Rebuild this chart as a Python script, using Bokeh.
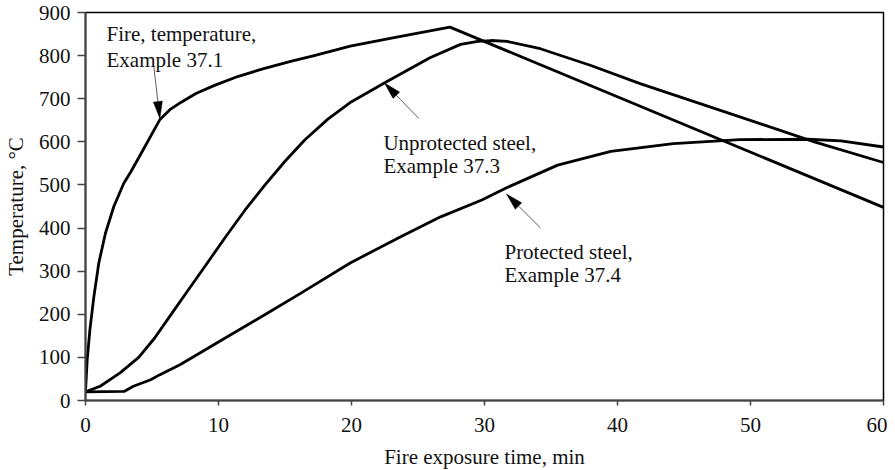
import numpy as np
from bokeh.plotting import figure
from bokeh.models import Range1d, FixedTicker, Label
from bokeh.embed import file_html
from bokeh.resources import INLINE

# ---- data ----
fire_t = [0, 0.13, 0.33, 0.63, 1.0, 1.5, 2.13, 2.88, 3.4, 4.4, 5.6, 6.4, 7.2, 8.3, 9.7, 11.5, 13.4, 15.5, 17.2, 19.9, 23.4, 27.4, 60]
fire_T = [20, 95, 164, 241, 319, 388, 450, 504, 530, 585, 652, 676, 692, 712, 731, 752, 770, 787, 800, 822, 843, 866, 448]

unprot_t = [0, 1.1, 2.6, 4.0, 5.2, 6.4, 7.7, 9.0, 10.5, 12.0, 13.5, 15.0, 16.5, 18.2, 20.0, 22.5, 25.9, 28.2, 29.5, 30.5, 31.7, 34.2, 38.0, 41.7, 49.2, 54.8, 60]
unprot_T = [20, 33, 64, 100, 145, 198, 255, 312, 378, 442, 500, 555, 605, 652, 693, 737, 795, 826, 833, 835, 833, 816, 777, 735, 658, 600, 552]

prot_t = [0, 2.9, 3.6, 4.9, 5.6, 7.1, 8.6, 9.9, 13.7, 16.2, 19.9, 23.7, 26.7, 29.8, 31.7, 35.5, 39.5, 44.2, 49.2, 54.3, 56.8, 60]
prot_T = [20, 21, 33, 48, 60, 83, 110, 134, 203, 249, 319, 380, 426, 465, 494, 546, 578, 596, 605, 606, 602, 588]

x_ticks = [0, 10, 20, 30, 40, 50, 60]
y_ticks = [0, 100, 200, 300, 400, 500, 600, 700, 800, 900]
x_title = "Fire exposure time, min"
y_title = "Temperature, \u00b0C"

# annotation texts and anchors (data units)
ann_lines = [["Fire, temperature,", "Example 37.1"],
             ["Unprotected steel,", "Example 37.3"],
             ["Protected steel,", "Example 37.4"]]
ann_x = [1.58, 22.4, 31.5]
ann_y1 = [851, 598, 345]
ann_y2 = [789, 545, 292]
arrow_tail = [(5.14, 773.5), (25.06, 654.1), (34.21, 400.3)]
arrow_tip = [(5.59, 654.1), (22.48, 736.4), (31.65, 478.9)]

FONT = "Liberation Serif"
FW, FH = 798, 388
BL, BR, BT, BB = 77, 4, 12, 60
XMAX, YMAX = 60, 900
sx, sy = FW / XMAX, FH / YMAX

p = figure(frame_width=FW, frame_height=FH,
           x_range=Range1d(0, XMAX), y_range=Range1d(0, YMAX),
           output_backend="svg", toolbar_location=None,
           min_border_left=BL, min_border_right=BR, min_border_top=BT, min_border_bottom=BB)
p.background_fill_color = "white"
p.border_fill_color = "white"
p.outline_line_color = "black"
p.outline_line_width = 1.5
p.xgrid.visible = False
p.ygrid.visible = False

for ax in (p.xaxis[0], p.yaxis[0]):
    ax.axis_line_color = "#444444"
    ax.axis_line_width = 2
    ax.major_tick_line_color = "#444444"
    ax.major_tick_line_width = 1.5
    ax.major_tick_in = 0
    ax.minor_tick_line_color = None
    ax.major_label_text_font = FONT
    ax.major_label_text_font_size = "21px"
    ax.major_label_text_color = "#111111"
    ax.axis_label_text_font = FONT
    ax.axis_label_text_font_size = "21px"
    ax.axis_label_text_font_style = "normal"
    ax.axis_label_text_color = "#111111"

p.xaxis.ticker = FixedTicker(ticks=x_ticks)
p.yaxis.ticker = FixedTicker(ticks=y_ticks)
p.xaxis.major_tick_out = 5
p.yaxis.major_tick_out = 8
p.xaxis.major_label_standoff = 12
p.yaxis.major_label_standoff = 7
p.xaxis.axis_label = x_title
p.yaxis.axis_label = y_title
p.xaxis.axis_label_standoff = 10
p.yaxis.axis_label_standoff = 8

for t, T in ((fire_t, fire_T), (unprot_t, unprot_T), (prot_t, prot_T)):
    p.line(t, T, line_color="black", line_width=2.8, line_join="round", line_cap="round")

# labels
for lines, x, y1, y2 in zip(ann_lines, ann_x, ann_y1, ann_y2):
    for txt, y in ((lines[0], y1), (lines[1], y2)):
        p.add_layout(Label(x=x, y=y, text=txt, text_font=FONT, text_font_size="21px",
                           text_color="#111111", text_baseline="alphabetic", text_align="left"))

# arrows: thin shaft + narrow filled head (built in pixel space, converted to data)
HL, HW = 17.0, 4.5
for (x0, y0), (x1, y1) in zip(arrow_tail, arrow_tip):
    px0, py0, px1, py1 = x0 * sx, y0 * sy, x1 * sx, y1 * sy
    d = np.array([px1 - px0, py1 - py0])
    u = d / np.hypot(*d)
    n = np.array([-u[1], u[0]])
    base = np.array([px1, py1]) - HL * u
    c1 = base + HW * n
    c2 = base - HW * n
    p.line([x0, base[0] / sx], [y0, base[1] / sy], line_color="#333333", line_width=0.8)
    p.patch([x1, c1[0] / sx, c2[0] / sx], [y1, c1[1] / sy, c2[1] / sy],
            fill_color="black", line_color="black", line_width=0.5)

open("out.html", "w").write(file_html(p, INLINE))
